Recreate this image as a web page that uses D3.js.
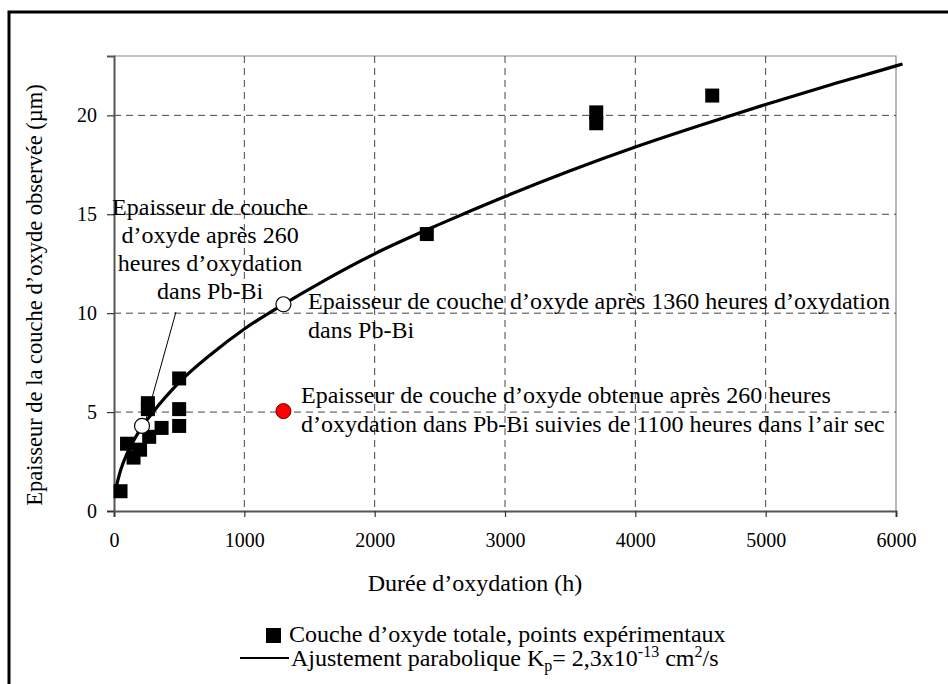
<!DOCTYPE html>
<html><head><meta charset="utf-8">
<script src="https://cdn.jsdelivr.net/npm/d3@7"></script>
<style>
html,body{margin:0;padding:0;background:#fff;}
svg{display:block;}
svg text{font-family:"Liberation Serif","Times New Roman",Times,"DejaVu Serif",serif !important;}
</style>
</head><body>
<script>
// ---- data ----
const xTicks = [0, 1000, 2000, 3000, 4000, 5000, 6000];
const yTicks = [0, 5, 10, 15, 20];
// experimental points (time h, thickness µm)
const expT = [50, 100, 150, 200, 260, 260, 270, 365, 500, 500, 500, 2400, 3700, 3700, 4590];
const expY = [1.0, 3.4, 2.7, 3.1, 5.45, 5.15, 3.75, 4.2, 6.7, 5.15, 4.3, 14.0, 20.15, 19.6, 21.0];
// parabolic fit curve
const fitT = [20, 50, 100, 200, 300, 500, 750, 1000, 1300, 1600, 2000, 2500, 3000, 3500, 4000, 4500, 5000, 5500, 6000, 6050];
const fitY = [1.3, 2.05, 2.9, 4.1, 5.0, 6.5, 7.95, 9.2, 10.45, 11.6, 13.0, 14.5, 15.9, 17.2, 18.4, 19.5, 20.55, 21.55, 22.5, 22.6];
// highlighted points
const openT = [215, 1300];
const openY = [4.3, 10.45];
const redT = [1300];
const redY = [5.05];
// texts
const yTitle = "Epaisseur de la couche d\u2019oxyde observ\u00e9e (\u00b5m)";
const xTitle = "Dur\u00e9e d\u2019oxydation (h)";
const ann1 = ["Epaisseur de couche", "d\u2019oxyde apr\u00e8s 260", "heures d\u2019oxydation", "dans Pb-Bi"];
const ann2 = ["Epaisseur de couche d\u2019oxyde apr\u00e8s 1360 heures d\u2019oxydation", "dans Pb-Bi"];
const ann3 = ["Epaisseur de couche d\u2019oxyde obtenue apr\u00e8s 260 heures", "d\u2019oxydation dans Pb-Bi suivies de 1100 heures dans l\u2019air sec"];
const legend1 = "Couche d\u2019oxyde totale, points exp\u00e9rimentaux";

const W = 948, H = 684;
const FONT = "Liberation Serif";
const svg = d3.select("body").append("svg").attr("width", W).attr("height", H)
  .attr("font-family", FONT);

const m = {left: 114, right: 896, top: 56, bottom: 511};
const x = d3.scaleLinear().domain([0, 6000]).range([m.left, m.right]);
const y = d3.scaleLinear().domain([0, 23]).range([m.bottom, m.top]);

// outer frame (open at right / bottom)
svg.append("path").attr("d", `M9,${H} L9,12 L${W},12`).attr("fill", "none")
  .attr("stroke", "#000").attr("stroke-width", 3);

// plot border top/right
svg.append("path").attr("d", `M${m.left},${m.top} L${m.right},${m.top} L${m.right},${m.bottom}`)
  .attr("fill", "none").attr("stroke", "#888").attr("stroke-width", 1.2);

// gridlines
const g = svg.append("g");
g.selectAll(".vg").data(xTicks.filter(d => d > 0 && d < 6000)).enter().append("line")
  .attr("x1", d => x(d)).attr("x2", d => x(d)).attr("y1", m.top).attr("y2", m.bottom)
  .attr("stroke", "#444").attr("stroke-width", 1).attr("stroke-dasharray", "7,5");
g.selectAll(".hg").data(yTicks.filter(d => d > 0)).enter().append("line")
  .attr("x1", m.left).attr("x2", m.right).attr("y1", d => y(d)).attr("y2", d => y(d))
  .attr("stroke", "#444").attr("stroke-width", 1).attr("stroke-dasharray", "7,5");

// axes
const xAxis = svg.append("g").attr("transform", `translate(0,${m.bottom})`)
  .call(d3.axisBottom(x).tickValues(xTicks).tickSize(6).tickPadding(16).tickFormat(d3.format("d")));
const yAxis = svg.append("g").attr("transform", `translate(${m.left},0)`)
  .call(d3.axisLeft(y).tickValues(yTicks).tickSize(7).tickPadding(10).tickFormat(d3.format("d")));
[xAxis, yAxis].forEach(a => {
  a.attr("font-family", FONT).attr("font-size", 20);
  a.select(".domain").attr("stroke", "#555").attr("stroke-width", 2);
  a.selectAll(".tick line").attr("stroke", "#333").attr("stroke-width", 1.2);
  a.selectAll(".tick text").attr("fill", "#000");
});

// fit curve
const line = d3.line().x(d => x(d[0])).y(d => y(d[1])).curve(d3.curveMonotoneX);
svg.append("path").datum(fitT.map((t, i) => [t, fitY[i]]))
  .attr("d", line).attr("fill", "none").attr("stroke", "#000").attr("stroke-width", 3.2);

// experimental squares
const S = 14;
svg.selectAll(".sq").data(expT.map((t, i) => [t, expY[i]])).enter().append("rect")
  .attr("x", d => x(d[0]) - S / 2).attr("y", d => y(d[1]) - S / 2)
  .attr("width", S).attr("height", S).attr("fill", "#000");

// leader line for annotation 1
svg.append("line").attr("x1", x(475)).attr("y1", y(10.05)).attr("x2", x(240)).attr("y2", y(4.5))
  .attr("stroke", "#000").attr("stroke-width", 1);

// open circles
svg.selectAll(".oc").data(openT.map((t, i) => [t, openY[i]])).enter().append("circle")
  .attr("cx", d => x(d[0])).attr("cy", d => y(d[1])).attr("r", 7.5)
  .attr("fill", "#fff").attr("stroke", "#000").attr("stroke-width", 1.2);
// red dot
svg.selectAll(".rc").data(redT.map((t, i) => [t, redY[i]])).enter().append("circle")
  .attr("cx", d => x(d[0])).attr("cy", d => y(d[1])).attr("r", 7.5)
  .attr("fill", "#ff0000").attr("stroke", "#600").attr("stroke-width", 1);

// annotations
function block(lines, px, py, anchor, lh) {
  const t = svg.append("text").attr("text-anchor", anchor).attr("font-size", 24).attr("fill", "#000");
  lines.forEach((s, i) => t.append("tspan").attr("x", px).attr("y", py + i * lh).text(s));
}
block(ann1, x(737), y(14.95), "middle", 28);
block(ann2, x(1489), y(10.23), "start", 29);
block(ann3, x(1435), y(5.47), "start", 29);

// axis titles
svg.append("text").attr("x", 475).attr("y", 591).attr("text-anchor", "middle")
  .attr("font-size", 24).text(xTitle);
svg.append("text").attr("transform", "translate(42,295) rotate(-90)").attr("text-anchor", "middle")
  .attr("font-size", 22.5).text(yTitle);

// legend
svg.append("rect").attr("x", 266).attr("y", 628).attr("width", 15).attr("height", 15).attr("fill", "#000");
svg.append("text").attr("x", 289).attr("y", 642).attr("font-size", 24).text(legend1);
svg.append("line").attr("x1", 240).attr("x2", 289).attr("y1", 658).attr("y2", 658)
  .attr("stroke", "#000").attr("stroke-width", 2);
const l2 = svg.append("text").attr("x", 291).attr("y", 666).attr("font-size", 24);
l2.append("tspan").text("Ajustement parabolique K");
l2.append("tspan").attr("dy", 5).attr("font-size", 16).text("p");
l2.append("tspan").attr("dy", -5).text("= 2,3x10");
l2.append("tspan").attr("dy", -9).attr("font-size", 16).text("-13");
l2.append("tspan").attr("dy", 9).text(" cm");
l2.append("tspan").attr("dy", -9).attr("font-size", 16).text("2");
l2.append("tspan").attr("dy", 9).text("/s");
</script>
</body></html>
